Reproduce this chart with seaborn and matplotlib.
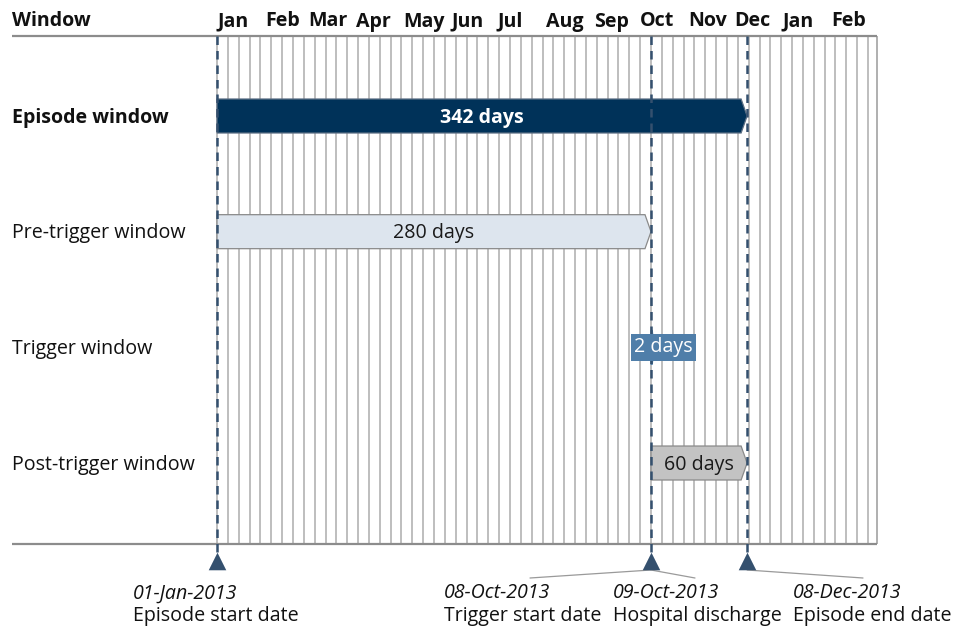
import matplotlib
matplotlib.use("Agg")
import matplotlib.pyplot as plt
import matplotlib.transforms as mtransforms
import seaborn as sns
import pandas as pd

# ---------------- data ----------------
rows = ["Episode window", "Pre-trigger window", "Trigger window", "Post-trigger window"]
row_bold = [True, False, False, False]
bar_start = [0, 0, 280, 280]          # days from 01-Jan-2013
bar_end = [342, 280, 282, 342]
bar_text = ["342 days", "280 days", "2 days", "60 days"]
bar_colors = ["#003259", "#dde5ee", "#4f7ea9", "#c3c3c3"]
bar_text_colors = ["white", "#1a1a1a", "white", "#1a1a1a"]

months = ["Jan", "Feb", "Mar", "Apr", "May", "Jun", "Jul", "Aug", "Sep",
          "Oct", "Nov", "Dec", "Jan", "Feb"]
month_start = [0, 31, 59, 90, 120, 151, 181, 212, 243, 273, 304, 334, 365, 396]

milestone_day = [0, 280, 342]
date_labels = ["01-Jan-2013", "08-Oct-2013", "09-Oct-2013", "08-Dec-2013"]
event_labels = ["Episode start date", "Trigger start date", "Hospital discharge", "Episode end date"]

week_days = list(range(0, 421, 7))
axis_end_day = 425.8

# ---------------- layout helpers (pixel layout of the 961x629 canvas) ----------------
W, H = 961, 629
PX_PER_DAY = 1.55
X0 = 217              # px of day 0
ROW0, ROW_SP = 116, 115.67


def dx(px):
    return (px - X0) / PX_PER_DAY


def ry(py):
    return (py - ROW0) / ROW_SP


sns.set_theme(style="white")
plt.rcParams["font.family"] = ["Open Sans", "DejaVu Sans"]

fig = plt.figure(figsize=(W / 100, H / 100), dpi=100)
ax = fig.add_axes([0, 0, 1, 1])
ax.set_xlim(dx(0), dx(W))
ax.set_ylim(ry(H), ry(0))
ax.axis("off")

top_y, bot_y = ry(36), ry(544)
grey = "#8c8c8c"
dash_col = "#34506e"
FS = 14.1

# weekly grid
ax.vlines(week_days, top_y, bot_y, color="#acacac", lw=1.1, zorder=1)
ax.vlines([axis_end_day], top_y, bot_y, color="#9a9a9a", lw=1.1, zorder=1)
# header and bottom rules
ax.hlines([top_y, bot_y], dx(12), axis_end_day, color=grey, lw=1.6, zorder=2)

# header
lbl_tr = mtransforms.blended_transform_factory(fig.transFigure, ax.transData)
ax.text(12 / W, ry(21.5), "Window", transform=lbl_tr, fontsize=FS, fontweight="bold",
        ha="left", va="center", color="#111111")
for m, d in zip(months, month_start):
    ax.text(d, ry(21.5), m, fontsize=FS, fontweight="bold", ha="left", va="center",
            color="#111111")

# bars
half = 17 / ROW_SP
tip = 6 / PX_PER_DAY
for i, (r, s, e, c) in enumerate(zip(rows, bar_start, bar_end, bar_colors)):
    t = min(tip, (e - s) * 0.6)
    xs = [s, e - t, e, e - t, s]
    ys = [i - half, i - half, i, i + half, i + half]
    ec = "#8a8a8a" if i in (1, 3) else ("#5c6f84" if i == 0 else c)
    ax.fill(xs, ys, facecolor=c, edgecolor=ec, lw=0.9, zorder=3)
    ax.text(12 / W, i + 1.5 / ROW_SP, r, transform=lbl_tr, fontsize=FS,
            fontweight="bold" if row_bold[i] else "normal",
            ha="left", va="center", color="#111111")
    if i == 2:
        ax.annotate(bar_text[i], xy=((s + e) / 2, i), xytext=(8, 0),
                    textcoords="offset points", ha="center", va="center",
                    fontsize=FS, color="white", zorder=6,
                    bbox=dict(boxstyle="square,pad=0.17", fc=c, ec="none"))
    else:
        ax.text((s + e) / 2, i + 1.5 / ROW_SP, bar_text[i], fontsize=FS, ha="center",
                va="center", color=bar_text_colors[i],
                fontweight="bold" if row_bold[i] else "normal", zorder=6)

# milestone dashed lines
ax.vlines(milestone_day, top_y, ry(553), color=dash_col, lw=1.8,
          linestyles=(0, (3.4, 2.4)), zorder=5)

# triangle markers via seaborn
mdf = pd.DataFrame({"day": milestone_day, "y": [ry(561)] * len(milestone_day)})
sns.scatterplot(data=mdf, x="day", y="y", marker="^", s=160, color=dash_col,
                edgecolor=dash_col, linewidth=0, ax=ax, zorder=6, clip_on=False)

# connectors
conn_targets = {1: [530, 695], 2: [863]}
for mi, targets in conn_targets.items():
    for px in targets:
        ax.plot([milestone_day[mi], dx(px)], [ry(570), ry(578)], color="#9a9a9a",
                lw=0.9, zorder=4)

# bottom labels
label_left_px = [133, 444, 613, 793]
for lx, dl, el in zip(label_left_px, date_labels, event_labels):
    ax.text(dx(lx), ry(593.5), dl, fontsize=FS, fontstyle="italic", ha="left",
            va="center", color="#111111")
    ax.text(dx(lx), ry(615.5), el, fontsize=FS, ha="left", va="center", color="#111111")

fig.savefig("out.png", dpi=100)
